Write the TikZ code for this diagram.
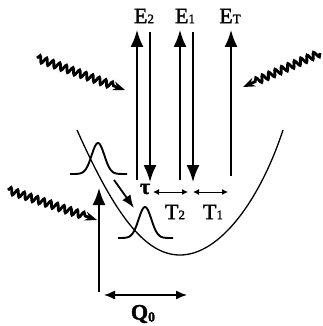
\documentclass[tikz,border=0pt]{standalone}
\usepackage{fontspec}
\setmainfont{Liberation Serif}
\newfontfamily\dickfont[FakeBold=1.6]{Liberation Serif}
\usetikzlibrary{arrows.meta,decorations.pathmorphing}
\newcommand{\klein}[1]{{\fontsize{13}{13}\selectfont #1}}

\begin{document}
\begin{tikzpicture}[x=1pt, y=-1pt,
				>={Latex[length=17pt,width=13pt]},   %Pfeilspitzen
				pfeil/.style={->, line width=1.8pt},
				doppel/.style={{Latex[length=6pt,width=6pt]}-{Latex[length=6pt,width=6pt]}, line width=1pt},
				welle/.style={line width=2.8pt, decorate, decoration={snake, amplitude=3.3pt, segment length=7pt, post length=12pt}, -{Stealth[length=12pt,width=9pt]}},
				lab/.style={font=\dickfont\fontsize{22}{22}\selectfont, inner sep=0pt},
				gauss/.style={line width=1.9pt}]
				\useasboundingbox (0,0) rectangle (323,326);
				% Beschriftungen
				\node[lab] (E2) at (144,16) {E\klein{2}};
				\node[lab] (E1) at (185,16) {E\klein{1}};
				\node[lab] (ET) at (230,16) {E\klein{T}};
				\node[lab] (tau) at (145,189) {\textbf{τ}};
				\node[lab] (T2) at (175,212) {T\klein{2}};
				\node[lab] (T1) at (213,212) {T\klein{1}};
				\node[lab] (Q0) at (143,314) {\textbf{Q\raisebox{-2pt}{\fontsize{14}{14}\selectfont\textbf{0}}}};
				% Endpunkte der Pfeile
				\coordinate (e2u) at (137,180); \coordinate (e2o) at (137,30);
				\coordinate (d2o) at (150,32);  \coordinate (d2u) at (150,182);
				\coordinate (e1u) at (180,180); \coordinate (e1o) at (180,30);
				\coordinate (d1o) at (193,32);  \coordinate (d1u) at (193,182);
				\coordinate (etu) at (231,176); \coordinate (eto) at (231,30);
				\coordinate (qu) at (99,292);   \coordinate (qo) at (99,188);
				\coordinate (ql) at (104,295);  \coordinate (qr) at (187,295);
				\coordinate (t2l) at (153,192); \coordinate (t2r) at (188,192);
				\coordinate (t1l) at (193,192); \coordinate (t1r) at (228,192);
				\coordinate (g1) at (114,180);  \coordinate (g2) at (134,208);
				% Uebergaenge
				\draw[pfeil] (e2u) -- (e2o);
				\draw[pfeil] (d2o) -- (d2u);
				\draw[pfeil] (e1u) -- (e1o);
				\draw[pfeil] (d1o) -- (d1u);
				\draw[pfeil] (etu) -- (eto);
				\draw[pfeil] (qu) -- (qo);
				\draw[pfeil, >={Latex[length=13pt,width=10pt]}] (g1) -- (g2);
				\draw[doppel] (t2l) -- (t2r);
				\draw[doppel] (t1l) -- (t1r);
				\draw[line width=1.3pt, {Latex[length=11pt,width=9pt]}-{Latex[length=11pt,width=9pt]}] (ql) -- (qr);
				% Potentialkurve
				\draw[line width=1.3pt] (77,130) .. controls (115,215) and (145,255) .. (180,255)
					.. controls (220,255) and (260,200) .. (283,130);
				% Wellenpakete
				\draw[gauss] plot[domain=70:127, samples=80] (\x, {174-31*exp(-(\x-98)^2/80)});
				\draw[gauss] plot[domain=118:173, samples=80] (\x, {238-31*exp(-(\x-145)^2/80)});
				% Licht
				\coordinate (w1a) at (37,58);  \coordinate (w1b) at (125,90);
				\coordinate (w2a) at (320,53); \coordinate (w2b) at (243,87);
				\coordinate (w3a) at (8,190);  \coordinate (w3b) at (97,220);
				\draw[welle] (w1a) -- (w1b);
				\draw[welle] (w2a) -- (w2b);
				\draw[welle] (w3a) -- (w3b);
			\end{tikzpicture}
\end{document}
